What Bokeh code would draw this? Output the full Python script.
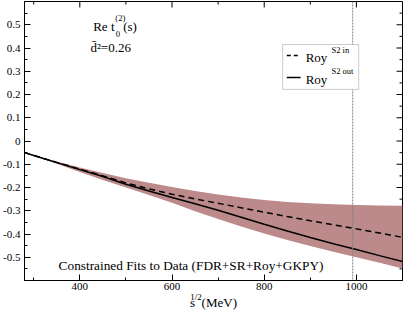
import math
from bokeh.plotting import figure
from bokeh.models import (Range1d, LinearAxis, FixedTicker, Span, Label,
                          BoxAnnotation, Arrow)
from bokeh.embed import file_html
from bokeh.resources import INLINE

# ---- data ----
sqrt_s = [280, 300, 350, 400, 450, 500, 550, 600, 650, 700, 750, 800,
          850, 900, 950, 1000, 1050, 1100]
roy_out = [-0.050, -0.062, -0.093, -0.123, -0.153, -0.186, -0.215, -0.243,
           -0.270, -0.298, -0.328, -0.358, -0.387, -0.415, -0.442, -0.467,
           -0.493, -0.518]
roy_in = [-0.050, -0.062, -0.092, -0.121, -0.150, -0.180, -0.206, -0.229,
          -0.249, -0.268, -0.287, -0.306, -0.325, -0.343, -0.360, -0.378,
          -0.396, -0.414]
band_hi = [-0.050, -0.060, -0.088, -0.114, -0.138, -0.160, -0.180, -0.198,
           -0.215, -0.230, -0.243, -0.254, -0.262, -0.268, -0.272, -0.275,
           -0.277, -0.278]
band_lo = [-0.050, -0.064, -0.098, -0.133, -0.168, -0.200, -0.232, -0.266,
           -0.302, -0.336, -0.368, -0.398, -0.426, -0.452, -0.476, -0.500,
           -0.524, -0.548]
kk_threshold = 992

x_min, x_max = 280, 1100
y_min, y_max = -0.6, 0.6
x_major = [400, 600, 800, 1000]
x_minor = [300, 500, 700, 900, 1100]
y_major = [-0.5, -0.4, -0.3, -0.2, -0.1, 0.0, 0.1, 0.2, 0.3, 0.4, 0.5]
y_labels = ["-0.5", "-0.4", "-0.3", "-0.2", "-0.1", "0", "0.1", "0.2",
            "0.3", "0.4", "0.5"]
y_minor = [-0.55, -0.45, -0.35, -0.25, -0.15, -0.05, 0.05, 0.15, 0.25,
           0.35, 0.45, 0.55]
x_title = "s\u2002(MeV)"
x_title_sup = "1/2"
x_title_sup_at = 652

FONT = "Liberation Serif"

p = figure(width=403, height=312, output_backend="svg", toolbar_location=None,
           x_range=Range1d(x_min, x_max), y_range=Range1d(y_min, y_max),
           x_axis_location=None, y_axis_location=None,
           min_border_left=23, min_border_right=1, min_border_top=1,
           min_border_bottom=32)
p.grid.visible = False
p.outline_line_color = "black"
p.outline_line_width = 1
p.background_fill_color = "white"
p.border_fill_color = "white"


def make_axis(ticks, minor, overrides=None):
    ax = LinearAxis(ticker=FixedTicker(ticks=ticks, minor_ticks=minor))
    ax.axis_line_color = "black"
    ax.major_tick_in = 6
    ax.major_tick_out = 0
    ax.minor_tick_in = 3
    ax.minor_tick_out = 0
    ax.major_tick_line_color = "black"
    ax.minor_tick_line_color = "black"
    ax.major_label_text_font = FONT
    ax.major_label_text_font_size = "11px"
    ax.major_label_text_color = "black"
    ax.major_label_standoff = 2
    if overrides:
        ax.major_label_overrides = overrides
    return ax


p.add_layout(make_axis(x_major, x_minor), "below")
yax = make_axis(y_major, y_minor,
                overrides={v: s for v, s in zip(y_major, y_labels)})
yax.major_label_standoff = 4
p.add_layout(yax, "left")

# x-axis title: "s (MeV)" with the 1/2 superscript carried by a bare axis row
tax = LinearAxis(ticker=FixedTicker(ticks=[x_title_sup_at], minor_ticks=[]))
tax.axis_line_color = None
tax.major_tick_line_color = None
tax.minor_tick_line_color = None
tax.major_tick_in = 0
tax.major_tick_out = 0
tax.major_label_overrides = {x_title_sup_at: x_title_sup}
tax.major_label_text_font = FONT
tax.major_label_text_font_size = "9px"
tax.major_label_text_color = "black"
tax.major_label_standoff = -1
tax.axis_label = x_title
tax.axis_label_text_font = FONT
tax.axis_label_text_font_size = "13px"
tax.axis_label_text_font_style = "normal"
tax.axis_label_text_color = "black"
tax.axis_label_standoff = -10
p.add_layout(tax, "below")

# mirrored inward ticks on the top and right edges
p.ray(x=x_major, y=y_max, length=6, length_units="screen",
      angle=-math.pi / 2, line_color="black", line_width=1)
p.ray(x=x_minor, y=y_max, length=3, length_units="screen",
      angle=-math.pi / 2, line_color="black", line_width=1)
p.ray(x=x_max, y=y_major, length=6, length_units="screen",
      angle=math.pi, line_color="black", line_width=1)
p.ray(x=x_max, y=y_minor, length=3, length_units="screen",
      angle=math.pi, line_color="black", line_width=1)

# uncertainty band
p.varea(x=sqrt_s, y1=band_lo, y2=band_hi, fill_color="#bc8a8a", fill_alpha=1.0)

# curves
p.line(sqrt_s, roy_in, line_color="black", line_width=1.5, line_dash="6 4")
p.line(sqrt_s, roy_out, line_color="black", line_width=1.5)

# K Kbar threshold
p.add_layout(Span(location=kk_threshold, dimension="height",
                  line_color="#808080", line_width=1, line_dash="2 1"))

# ---- legend (drawn by hand to allow superscripts) ----
p.add_layout(BoxAnnotation(left=840, right=1005, top=0.415, bottom=0.222,
                           fill_color="white", fill_alpha=1.0,
                           line_color="#555555", line_width=1))
p.add_layout(Arrow(end=None, x_start=849, y_start=0.368, x_end=879,
                   y_end=0.368, line_color="black", line_width=1.5,
                   line_dash="4 3"))
p.add_layout(Arrow(end=None, x_start=849, y_start=0.273, x_end=879,
                   y_end=0.273, line_color="black", line_width=1.5))


def txt(x, y, s, size):
    p.add_layout(Label(x=x, y=y, text=s, text_font=FONT,
                       text_font_size=size, text_color="black",
                       text_align="left", text_baseline="middle"))


txt(890, 0.359, "Roy", "13px")
txt(946, 0.392, "S2 in", "8.5px")
txt(890, 0.265, "Roy", "13px")
txt(946, 0.299, "S2 out", "8.5px")

# annotations
txt(429, 0.492, "Re t", "13px")
txt(477, 0.527, "(2)", "8.5px")
txt(478, 0.462, "0", "8.5px")
txt(494, 0.492, "(s)", "13px")
txt(423, 0.402, "d\u0304\u00b2=0.26", "13px")

txt(354, -0.535, "Constrained Fits to Data (FDR+SR+Roy+GKPY)", "13.3px")

open("out.html", "w").write(file_html(p, INLINE))
